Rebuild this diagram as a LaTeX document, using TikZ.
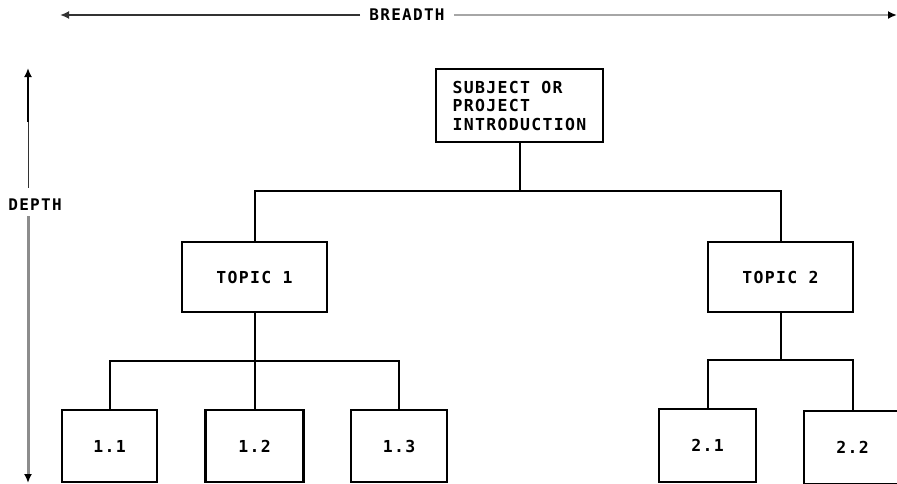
\documentclass[tikz,border=0pt]{standalone}
\usepackage{fontspec}
\newfontfamily\lblfont{DejaVu Sans Mono}[LetterSpace=8]
\usetikzlibrary{arrows.meta}
\begin{document}
\begin{tikzpicture}[x=1pt,y=-1pt,
  box/.style={draw=black,line width=2.2pt,rectangle,inner sep=0pt,
    font=\lblfont\bfseries\fontsize{16.5}{18.5}\selectfont},
  conn/.style={draw=black,line width=2pt},
  lbl/.style={font=\lblfont\bfseries\fontsize{16}{17}\selectfont,inner sep=0pt}]
\useasboundingbox (0,0) rectangle (897,483);
\clip (0,0) rectangle (897,483);
% axis labels
\node[lbl] (breadth) at (407,15) {BREADTH};
\node[lbl] (depth) at (35,205) {DEPTH};
\coordinate (bl) at (60,15);
\coordinate (br) at (897,15);
\coordinate (dt) at (28,68);
\coordinate (db) at (28,483);
\draw[line width=2.4pt,black!80,-{Latex[length=9pt,width=8pt]}] (breadth.west) ++(-9,0) -- (bl);
\draw[line width=2.4pt,black!35,-{Latex[length=9pt,width=8pt,black]}] (breadth.east) ++(9,0) -- (br);
\draw[line width=1pt,black!80] (depth.north) ++(-7,-11) -- (28,122);
\draw[line width=2.8pt,black,-{Latex[length=9pt,width=8pt]}] (28,122) -- (dt);
\draw[line width=3pt,black!45,-{Latex[length=9pt,width=8pt,black]}] (depth.south) ++(-7,5) -- (db);
% boxes
\node[box,minimum width=167pt,minimum height=73pt,align=left] (root) at (519.5,105.5)
  {SUBJECT OR\\PROJECT\\INTRODUCTION};
\node[box,minimum width=145pt,minimum height=70pt] (t1) at (254.5,277) {TOPIC 1};
\node[box,minimum width=145pt,minimum height=70pt] (t2) at (780.5,277) {TOPIC 2};
\node[box,minimum width=95pt,minimum height=72pt] (c11) at (109.5,446) {1.1};
\node[box,minimum width=98pt,minimum height=72pt] (c12) at (254.5,446) {1.2};
\node[box,minimum width=96pt,minimum height=72pt] (c13) at (399,446) {1.3};
\node[box,minimum width=97pt,minimum height=73pt] (c21) at (707.5,445.5) {2.1};
\node[box,minimum width=97pt,minimum height=73pt] (c22) at (852.5,447.5) {2.2};
% connectors
\coordinate (b0) at (519.5,191);
\coordinate (b1) at (254.5,361);
\coordinate (b2) at (780.5,360);
\draw[conn] (root.south) -- (b0);
\draw[conn] (t1.north) |- (b0) -| (t2.north);
\draw[conn] (t1.south) -- (b1);
\draw[conn] (c11.north) |- (b1) -| (c13.north);
\draw[conn] (b1) -- (c12.north);
\draw[conn] (t2.south) -- (b2);
\draw[conn] (c21.north) |- (b2) -| (c22.north);
\end{tikzpicture}
\end{document}
